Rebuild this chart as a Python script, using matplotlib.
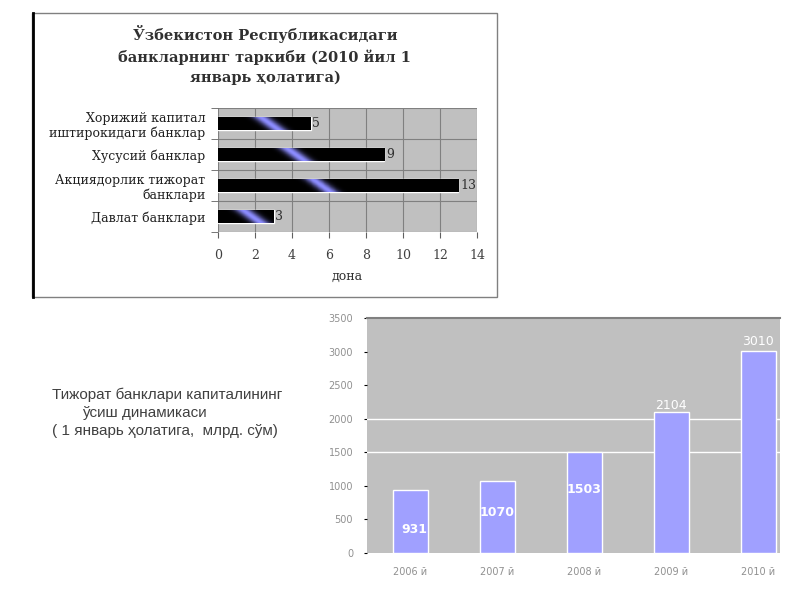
import numpy as np
import matplotlib
matplotlib.use("Agg")
import matplotlib.pyplot as plt
from matplotlib.patches import Rectangle

# bank structure (top chart)
bank_types = ["Давлат банклари", "Акциядорлик тижорат\nбанклари",
              "Хусусий банклар", "Хорижий капитал\nиштирокидаги банклар"]
bank_counts = [3, 13, 9, 5]

# capital growth (bottom chart)
years = ["2006 й", "2007 й", "2008 й", "2009 й", "2010 й"]
capital = [931, 1070, 1503, 2104, 3010]

fig = plt.figure(figsize=(8, 6), dpi=100)
serif = "DejaVu Serif"

# frame of the top chart
fig.patches.append(Rectangle((32/800, 1-297/600), 465/800, 284/600, transform=fig.transFigure,
                             fill=False, edgecolor="#808080", lw=1))
fig.lines.append(plt.Line2D([33/800, 33/800], [1-297/600, 1-13/600], transform=fig.transFigure,
                            color="black", lw=2))

### top chart
ax1 = fig.add_axes([218/800, 1-232/600, 259/800, 124/600])
ax1.set_facecolor("#c0c0c0")
y = np.arange(len(bank_types))
bars = ax1.barh(y, bank_counts, height=0.45, color="black", edgecolor="white", lw=1, zorder=3)
# blue diagonal highlight
gx, gy = np.meshgrid(np.linspace(0, 1, 200), np.linspace(0, 1, 20))
for b, v in zip(bars, bank_counts):
    x0, y0 = b.get_x(), b.get_y()
    w, h = b.get_width(), b.get_height()
    center = 0.35 + 1.0 / v  # stripe position along the bar
    d = gx * w - (center * w if v > 4 else 1.8) + (gy - 0.5) * 1.0
    s = np.exp(-(d / 0.45) ** 2)
    img = np.zeros((20, 200, 4))
    img[..., 0] = 0.55 * s
    img[..., 1] = 0.55 * s
    img[..., 2] = 1.0 * s
    img[..., 3] = 1
    im = ax1.imshow(img, extent=(x0, x0 + w, y0, y0 + h), aspect="auto", zorder=4, origin="lower")
    im.set_clip_path(b)
    ax1.text(v + 0.1, y0 + h / 2, str(v), va="center", ha="left", fontsize=9,
             family=serif, color="#303030", zorder=5)
ax1.set_xlim(0, 14)
ax1.set_ylim(-0.5, len(bank_types) - 0.5)
ax1.set_xticks(range(0, 15, 2))
ax1.set_yticks(y)
ax1.set_yticklabels(bank_types, fontsize=9, family=serif, color="#202020")
ax1.set_yticks(np.arange(-0.5, len(bank_types)), minor=True)
ax1.tick_params(axis="y", which="major", length=0, pad=9)
ax1.tick_params(axis="y", which="minor", length=5, color="#606060")
ax1.tick_params(axis="x", length=4, color="#606060", labelsize=9, labelcolor="#404040", pad=8)
for lab in ax1.get_xticklabels():
    lab.set_family(serif)
ax1.grid(axis="x", color="#808080", lw=0.8, zorder=1)
ax1.grid(axis="y", which="minor", color="#808080", lw=0.8, zorder=1)
ax1.set_axisbelow(True)
for sp in ax1.spines.values():
    sp.set_visible(False)
ax1.set_xlabel("дона", fontsize=9, family=serif, labelpad=6, color="#303030")
fig.text(265/800, 1-55/600, "Ўзбекистон Республикасидаги\nбанкларнинг таркиби (2010 йил 1\nянварь ҳолатига)",
         ha="center", va="center", fontsize=10.5, fontweight="bold", family=serif,
         linespacing=1.5, color="#303030")

### bottom chart
ax2 = fig.add_axes([367/800, 1-553/600, 413/800, 235/600])
ax2.set_facecolor("#c0c0c0")
x = np.arange(len(years))
ax2.bar(x, capital, width=0.4, color="#a0a0ff", edgecolor="white", lw=1, zorder=3)
ax2.set_xlim(-0.5, 4.25)
ax2.set_ylim(0, 3500)
ax2.set_yticks(range(0, 3501, 500))
ax2.set_xticks(x)
ax2.set_xticklabels(years)
ax2.tick_params(labelsize=7, labelcolor="#909090", length=2, color="black")
ax2.tick_params(axis="y", pad=8)
ax2.tick_params(axis="x", length=0, pad=10)
for yl in (1500, 2000):
    ax2.axhline(yl, color="white", lw=1, zorder=2)
for sp in ("left", "right", "bottom"):
    ax2.spines[sp].set_visible(False)
ax2.spines["top"].set_color("#808080")
ax2.spines["top"].set_linewidth(1.5)
# value labels
label_y = [350, 600, 950, 2200, 3150]
for i, (v, ly) in enumerate(zip(capital, label_y)):
    ax2.text(i + (0.05 if i == 0 else 0), ly, str(v), ha="center", va="center",
             color="white", fontsize=9, fontweight="bold" if v < 2000 else "normal", zorder=5)

fig.text(52/800, 1-395/600, "Тижорат банклари капиталининг", fontsize=11, color="#404040",
         family="Liberation Sans", va="center")
fig.text(82/800, 1-413/600, "ўсиш динамикаси", fontsize=11, color="#404040",
         family="Liberation Sans", va="center")
fig.text(52/800, 1-431/600, "( 1 январь ҳолатига,  млрд. сўм)", fontsize=11, color="#404040",
         family="Liberation Sans", va="center")

fig.savefig("out.png", dpi=100)
